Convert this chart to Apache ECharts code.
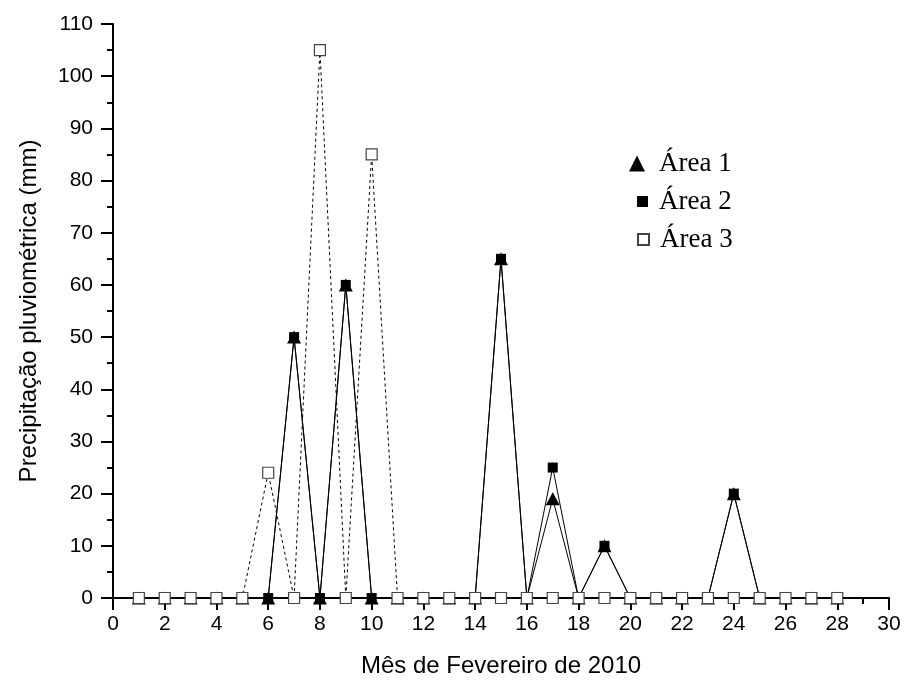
<!DOCTYPE html>
<html>
<head>
<meta charset="utf-8">
<script src="https://cdn.jsdelivr.net/npm/echarts@6/dist/echarts.min.js"></script>
<style>html,body{margin:0;padding:0;background:#fff}#c{width:904px;height:685px}</style>
</head>
<body>
<div id="c"></div>
<script>
var days = [1,2,3,4,5,6,7,8,9,10,11,12,13,14,15,16,17,18,19,20,21,22,23,24,25,26,27,28];
var area1 = [0,0,0,0,0,0,50,0,60,0,0,0,0,0,65,0,19,0,10,0,0,0,0,20,0,0,0,0];
var area2 = [0,0,0,0,0,0,50,0,60,0,0,0,0,0,65,0,25,0,10,0,0,0,0,20,0,0,0,0];
var area3 = [0,0,0,0,0,24,0,105,0,85,0,0,0,0,0,0,0,0,0,0,0,0,0,0,0,0,0,0];
var names = ['Área 1','Área 2','Área 3'];
var xTitle = 'Mês de Fevereiro de 2010';
var yTitle = 'Precipitação pluviométrica (mm)';

function pairs(v){ return days.map(function(d,i){ return [d, v[i]]; }); }

var chart = echarts.init(document.getElementById('c'), null, {renderer:'canvas'});
var axisFont = {fontFamily:'Liberation Sans', fontSize:21, color:'#000'};
var titleFont = {fontFamily:'Liberation Sans', fontSize:24, color:'#000'};
function leg(name, icon, top, s, left, pad){
  return {
    data:[name], icon:icon, orient:'vertical', left:left, top:top,
    itemWidth:s, itemHeight:s,
    textStyle:{fontFamily:'Liberation Serif', fontSize:27, color:'#000', padding:[0,0,0,pad]},
    selectedMode:false, padding:0
  };
}
chart.setOption({
  animation:false,
  backgroundColor:'#fff',
  grid:{left:113, right:15, top:24, bottom:87, containLabel:false},
  legend:[
    leg(names[0], 'triangle', 150, 16, 629, 9),
    leg(names[1], 'rect', 188, 11, 637, 6),
    leg(names[2], 'rect', 226, 11, 637, 6)
  ],
  xAxis:{
    type:'value', min:0, max:30, interval:2,
    name:xTitle, nameLocation:'middle', nameGap:56,
    nameTextStyle:titleFont,
    axisLine:{show:true, onZero:false, lineStyle:{color:'#000', width:2}},
    axisTick:{show:true, length:12, lineStyle:{color:'#000', width:2}},
    minorTick:{show:true, splitNumber:2, length:6, lineStyle:{color:'#000', width:2}},
    axisLabel:Object.assign({margin:16}, axisFont),
    splitLine:{show:false}
  },
  yAxis:{
    type:'value', min:0, max:110, interval:10,
    name:yTitle, nameLocation:'middle', nameGap:72,
    nameTextStyle:titleFont,
    axisLine:{show:true, lineStyle:{color:'#000', width:2}},
    axisTick:{show:true, length:12, lineStyle:{color:'#000', width:2}},
    minorTick:{show:true, splitNumber:2, length:6, lineStyle:{color:'#000', width:2}},
    axisLabel:Object.assign({margin:20}, axisFont),
    splitLine:{show:false}
  },
  series:[
    {name:names[0], type:'line', data:pairs(area1), symbol:'triangle', symbolSize:[14,13],
     itemStyle:{color:'#000'}, lineStyle:{color:'#000', width:1}, z:2},
    {name:names[1], type:'line', data:pairs(area2), symbol:'rect', symbolSize:10,
     itemStyle:{color:'#000'}, lineStyle:{color:'#000', width:1}, z:3},
    {name:names[2], type:'line', data:pairs(area3), symbol:'rect', symbolSize:11,
     itemStyle:{color:'#fff', borderColor:'#444', borderWidth:1.2},
     lineStyle:{color:'#000', width:1, type:[3,3]}, z:4}
  ]
});
</script>
</body>
</html>
